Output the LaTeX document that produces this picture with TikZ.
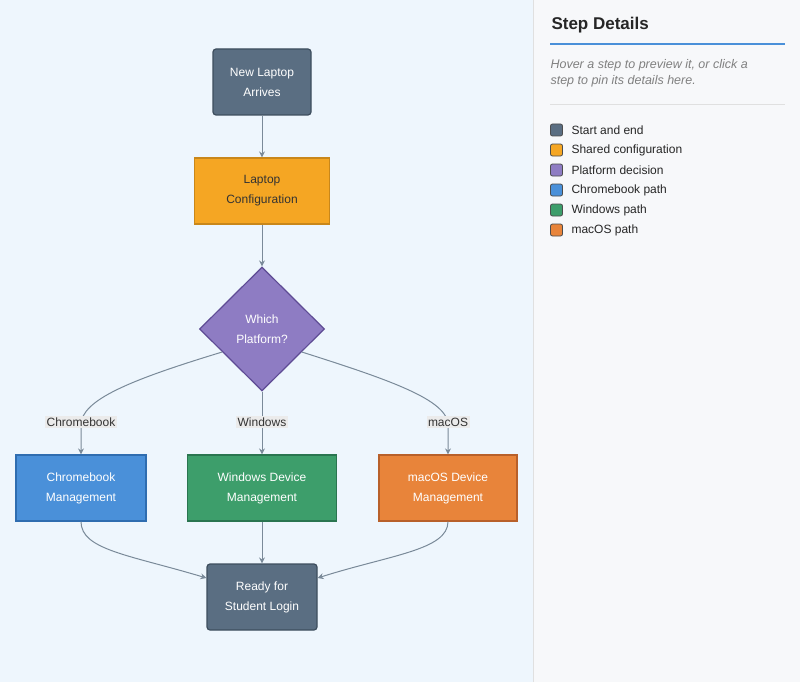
\documentclass[tikz,border=0pt]{standalone}
\usepackage{fontspec}
\setmainfont{Liberation Sans}
\usetikzlibrary{shapes.geometric,arrows.meta}
\definecolor{slate}{HTML}{5A6E82}
\definecolor{slateb}{HTML}{3E4E5E}
\definecolor{orng}{HTML}{F5A623}
\definecolor{orngb}{HTML}{C9871A}
\definecolor{purp}{HTML}{8E7CC3}
\definecolor{purpb}{HTML}{5E4B94}
\definecolor{blu}{HTML}{4A90D9}
\definecolor{blub}{HTML}{2F6DB0}
\definecolor{grn}{HTML}{3D9E6B}
\definecolor{grnb}{HTML}{2A7550}
\definecolor{org}{HTML}{E8843A}
\definecolor{orgb}{HTML}{B8602A}
\definecolor{edge}{HTML}{7A8A99}
\definecolor{leftbg}{HTML}{EEF6FD}
\definecolor{rightbg}{HTML}{F7F8FA}
\begin{document}
\begin{tikzpicture}[x=1pt,y=-1pt,
  box/.style={draw,line width=1.2pt,minimum height=66pt,align=center,text=white,font=\fontsize{12}{20}\selectfont},
  dia/.style={diamond,draw,line width=1.2pt,minimum width=125pt,minimum height=124pt,inner sep=0pt,align=center,text=white,font=\fontsize{12}{20}\selectfont},
  conn/.style={draw=edge,line width=1pt,-{Stealth[length=6pt,width=6pt]}},
  lab/.style={fill=black!8,inner sep=1.5pt,font=\fontsize{12}{14}\selectfont,text=black!80},
  leg/.style={draw=black!70,rounded corners=2pt,line width=0.8pt,minimum size=12pt,inner sep=0pt},
  legt/.style={anchor=west,font=\fontsize{12}{14}\selectfont,text=black!85}]
\useasboundingbox (0,0) rectangle (800,682);
\fill[leftbg] (0,0) rectangle (533,682);
\fill[rightbg] (533,0) rectangle (800,682);
\draw[black!12] (533,0) -- (533,682);

\node[box,fill=slate,draw=slateb,rounded corners=3pt,minimum width=98pt] (start) at (262,82) {New Laptop\\Arrives};
\node[box,fill=orng,draw=orngb,minimum width=135pt,text=black!80] (conf) at (262,191) {Laptop\\Configuration};
\node[dia,fill=purp,draw=purpb] (dec) at (262,329) {Which\\Platform?};
\node[box,fill=blu,draw=blub,minimum width=130pt] (cb) at (81,488) {Chromebook\\Management};
\node[box,fill=grn,draw=grnb,minimum width=149pt] (win) at (262,488) {Windows Device\\Management};
\node[box,fill=org,draw=orgb,minimum width=138pt] (mac) at (448,488) {macOS Device\\Management};
\node[box,fill=slate,draw=slateb,rounded corners=3pt,minimum width=110pt] (end) at (262,597) {Ready for\\Student Login};

\draw[conn] (start) -- (conf);
\draw[conn] (conf) -- (dec);
\draw[conn] (dec.210) .. controls (130,380) and (81,400) .. (81,425) -- (cb.north);
\draw[conn] (dec.south) -- (win.north);
\draw[conn] (dec.330) .. controls (390,380) and (448,400) .. (448,425) -- (mac.north);
\node[lab] (l1) at (81,422) {Chromebook};
\node[lab] (l2) at (262,422) {Windows};
\node[lab] (l3) at (448,422) {macOS};
\draw[conn] (cb.south) .. controls (81,550) and (130,555) .. (end.west |- 0,578);
\draw[conn] (win.south) -- (end.north);
\draw[conn] (mac.south) .. controls (448,550) and (390,555) .. (end.east |- 0,578);

\node[anchor=west,font=\bfseries\fontsize{17}{20}\selectfont,text=black!85] (title) at (548,25) {Step Details};
\draw[blu,line width=1.5pt] (550,44) -- (785,44);
\node[anchor=north west,align=left,font=\itshape\fontsize{12.5}{16}\selectfont,text=black!50] (hint) at (547,56) {Hover a step to preview it, or click a\\step to pin its details here.};
\draw[black!12] (550,104) -- (785,104);
\foreach \c/\t [count=\i] in {slate/Start and end,orng/Shared configuration,purp/Platform decision,blu/Chromebook path,grn/Windows path,org/macOS path}{
  \node[leg,fill=\c] (sq\i) at (556.5,110+20*\i) {};
  \node[legt] (tx\i) at (568,110+20*\i) {\t};
}
\end{tikzpicture}
\end{document}
